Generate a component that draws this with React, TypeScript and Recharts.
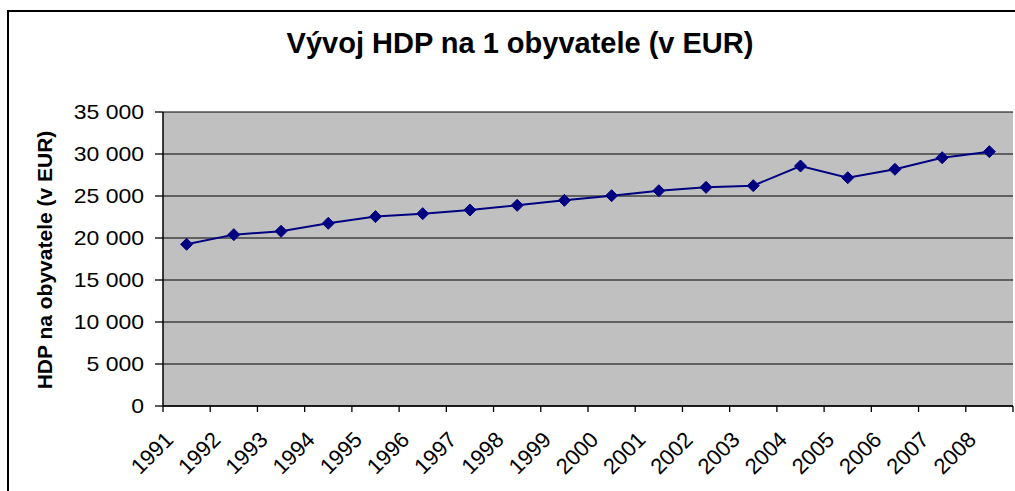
import React from "react";
import {
  ComposedChart,
  Line,
  XAxis,
  YAxis,
  CartesianGrid,
} from "recharts";

// roky a HDP na obyvatele (EUR)
const years = [
  "1991", "1992", "1993", "1994", "1995", "1996", "1997", "1998", "1999",
  "2000", "2001", "2002", "2003", "2004", "2005", "2006", "2007", "2008",
];
const hdp = [
  19250, 20400, 20800, 21750, 22550, 22900, 23330, 23890, 24480,
  25040, 25630, 26030, 26230, 28570, 27180, 28180, 29560, 30280,
];
const yTicks = [0, 5000, 10000, 15000, 20000, 25000, 30000, 35000];

const W = 1015;
const H = 491;
const FONT = "'Liberation Sans', Arial, sans-serif";
const NAVY = "#000080";

function fmt(v: number): string {
  return String(v).replace(/\B(?=(\d{3})+(?!\d))/g, " ");
}

const data = years.map((y, i) => ({ year: y, hdp: hdp[i] }));

function YTick(props: any) {
  const { x, y, payload } = props;
  return (
    <text
      transform={`translate(${x},${y}) scale(1.15,1)`}
      textAnchor="end"
      dy="0.36em"
      fontSize={20}
      fontFamily={FONT}
      fill="#000"
    >
      {fmt(Number(payload.value))}
    </text>
  );
}

function XTick(props: any) {
  const { x, y, payload, index } = props;
  const half = payload?.offset || 23.6;
  const last = index === years.length - 1;
  return (
    <g>
      <line x1={x - half} x2={x - half} y1={y} y2={y + 6} stroke="#000" strokeWidth={1.3} />
      {last ? (
        <line x1={x + half} x2={x + half} y1={y} y2={y + 6} stroke="#000" strokeWidth={1.3} />
      ) : null}
      <text
        transform={`translate(${x - 12},${y + 35}) rotate(-45)`}
        textAnchor="end"
        fontSize={22}
        fontFamily={FONT}
        fill="#000"
      >
        {payload.value}
      </text>
    </g>
  );
}

function Diamond(props: any) {
  const { cx, cy } = props;
  if (cx == null || cy == null) return null;
  const r = 6;
  return (
    <polygon
      points={`${cx},${cy - r} ${cx + r},${cy} ${cx},${cy + r} ${cx - r},${cy}`}
      fill={NAVY}
      stroke={NAVY}
    />
  );
}

export default function App() {
  return (
    <div style={{ position: "absolute", left: 0, top: 0, width: W, height: H, background: "#fff", overflow: "hidden" }}>
      <svg width={W} height={H} style={{ position: "absolute", left: 0, top: 0 }}>
        <rect x={8} y={11} width={W + 20} height={H + 20} fill="none" stroke="#000" strokeWidth={2} />
        <text
          x={520}
          y={53}
          textAnchor="middle"
          fontSize={29}
          fontWeight="bold"
          fontFamily={FONT}
          fill="#000"
        >
          Vývoj HDP na 1 obyvatele (v EUR)
        </text>
        <text
          transform="translate(52,260) rotate(-90)"
          textAnchor="middle"
          fontSize={21}
          fontWeight="bold"
          fontFamily={FONT}
          fill="#000"
        >
          HDP na obyvatele (v EUR)
        </text>
      </svg>
      <div style={{ position: "absolute", left: 0, top: 0 }}>
        <ComposedChart
          width={W}
          height={H}
          data={data}
          margin={{ top: 112, right: 2, bottom: 0, left: 0 }}
        >
          <CartesianGrid
            vertical={false}
            fill="#C0C0C0"
            fillOpacity={1}
            stroke="#000"
            strokeWidth={1.2}
          />
          <XAxis
            dataKey="year"
            scale="band"
            interval={0}
            height={85}
            tickLine={false}
            tickSize={0}
            tickMargin={0}
            axisLine={{ stroke: "#000", strokeWidth: 1.5 }}
            tick={<XTick />}
          />
          <XAxis
            xAxisId="top"
            dataKey="year"
            scale="band"
            orientation="top"
            height={0}
            tick={false}
            tickLine={false}
            axisLine={{ stroke: "#808080", strokeWidth: 1.5 }}
          />
          <YAxis
            domain={[0, 35000]}
            ticks={yTicks}
            width={163}
            interval={0}
            tickSize={8}
            tickMargin={11}
            tickLine={{ stroke: "#000", strokeWidth: 1.3 }}
            axisLine={{ stroke: "#000", strokeWidth: 1.5 }}
            tick={<YTick />}
          />
          <YAxis
            yAxisId="right"
            orientation="right"
            domain={[0, 35000]}
            width={0}
            tick={false}
            tickLine={false}
            axisLine={{ stroke: "#808080", strokeWidth: 1.5 }}
          />
          <Line
            dataKey="hdp"
            type="linear"
            stroke={NAVY}
            strokeWidth={2}
            dot={<Diamond />}
            activeDot={false}
            isAnimationActive={false}
          />
        </ComposedChart>
      </div>
    </div>
  );
}
